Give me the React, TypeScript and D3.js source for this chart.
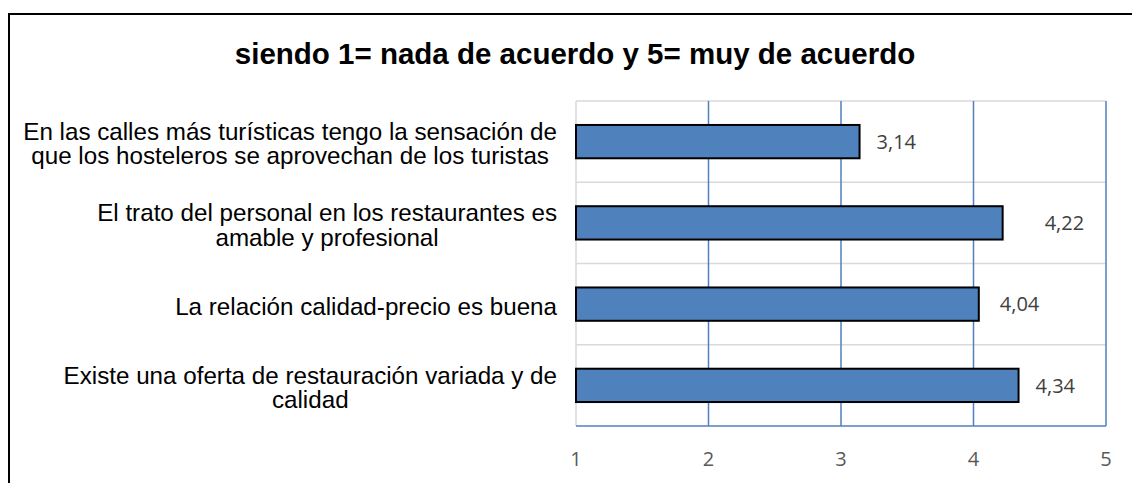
import React, { useEffect, useRef } from "react";
import * as d3 from "d3";

const title = "siendo 1= nada de acuerdo y 5= muy de acuerdo";
const categories = [
  ["En las calles más turísticas tengo la sensación de", "que los hosteleros se aprovechan de los turistas"],
  ["El trato del personal en los restaurantes es", "amable y profesional"],
  ["La relación calidad-precio es buena"],
  ["Existe una oferta de restauración variada y de", "calidad"],
];
const values = [3.14, 4.22, 4.04, 4.34];
const xTicks = [1, 2, 3, 4, 5];

// gap between bar end and its data label, as placed in the original
const labelGap = [17, 42, 21, 17];

const W = 1132;
const H = 483;

export default function App() {
  const svgRef = useRef<SVGSVGElement>(null);

  useEffect(() => {
    const svg = d3.select(svgRef.current);
    svg.selectAll("*").remove();

    const left = 576, right = 1106, top = 101, bottom = 426;
    const keys = categories.map((c) => c.join(" "));

    const x = d3.scaleLinear().domain([1, 5]).range([left, right]);
    const y = d3
      .scaleBand<string>()
      .domain(keys)
      .range([top, bottom])
      .paddingInner(0.59)
      .paddingOuter(0.295);
    const step = y.step();

    // outer frame
    svg.append("rect")
      .attr("x", 9).attr("y", 14)
      .attr("width", W + 20).attr("height", H + 20)
      .attr("fill", "#fff").attr("stroke", "#000").attr("stroke-width", 2);

    // title
    svg.append("text")
      .attr("x", 575).attr("y", 64)
      .attr("text-anchor", "middle")
      .attr("font-family", "Liberation Sans, Arial, sans-serif")
      .attr("font-weight", "bold")
      .attr("font-size", 29.5)
      .text(title);

    // horizontal separators
    const seps = d3.range(keys.length).map((i) => top + i * step);
    svg.append("g").selectAll("line").data(seps).enter().append("line")
      .attr("x1", left).attr("x2", right)
      .attr("y1", (d) => d).attr("y2", (d) => d)
      .attr("stroke", "#d9d9d9").attr("stroke-width", 1.5);

    // vertical gridlines
    svg.append("g").selectAll("line").data(xTicks).enter().append("line")
      .attr("x1", (d) => x(d)).attr("x2", (d) => x(d))
      .attr("y1", top).attr("y2", bottom)
      .attr("stroke", (d) => (d === 1 ? "#d9d9d9" : "#4f81bd"))
      .attr("stroke-width", 1.5);

    svg.append("line")
      .attr("x1", left).attr("x2", right)
      .attr("y1", bottom).attr("y2", bottom)
      .attr("stroke", "#4f81bd").attr("stroke-width", 1.5);

    // bars
    svg.append("g").selectAll("rect").data(values).enter().append("rect")
      .attr("x", x(1))
      .attr("y", (d, i) => y(keys[i])!)
      .attr("width", (d) => x(d) - x(1))
      .attr("height", y.bandwidth())
      .attr("fill", "#4f81bd")
      .attr("stroke", "#000")
      .attr("stroke-width", 2);

    // value labels
    svg.append("g").selectAll("text").data(values).enter().append("text")
      .attr("x", (d, i) => x(d) + labelGap[i])
      .attr("y", (d, i) => y(keys[i])! + y.bandwidth() / 2)
      .attr("dy", "0.36em")
      .attr("font-family", "Open Sans, Liberation Sans, sans-serif")
      .attr("font-size", 20)
      .attr("fill", "#404040")
      .text((d) => d.toFixed(2).replace(".", ","));

    // x tick labels
    svg.append("g").selectAll("text").data(xTicks).enter().append("text")
      .attr("x", (d) => x(d))
      .attr("y", 466)
      .attr("text-anchor", "middle")
      .attr("font-family", "Open Sans, Liberation Sans, sans-serif")
      .attr("font-size", 20)
      .attr("fill", "#595959")
      .text((d) => d);

    // category labels: lines centred in a block that is right-aligned
    const labelRight = 557;
    const lineH = 24.5;
    const labels = svg.append("g")
      .attr("font-family", "Liberation Sans, Arial, sans-serif")
      .attr("font-size", 24.2)
      .attr("fill", "#000")
      .attr("text-anchor", "middle");
    categories.forEach((lines, i) => {
      const cy = y(keys[i])! + y.bandwidth() / 2;
      const rows = lines.map((ln, j) =>
        labels.append("text")
          .attr("y", cy + 2 + (j - (lines.length - 1) / 2) * lineH)
          .attr("dy", "0.35em")
          .text(ln)
      );
      const maxW = d3.max(rows, (s) => (s.node() as SVGTextContentElement).getComputedTextLength()) || 0;
      rows.forEach((s) => s.attr("x", labelRight - maxW / 2));
    });
  }, []);

  return (
    <svg
      ref={svgRef}
      width={W}
      height={H}
      style={{ position: "absolute", left: 0, top: 0, background: "#fff" }}
    />
  );
}
